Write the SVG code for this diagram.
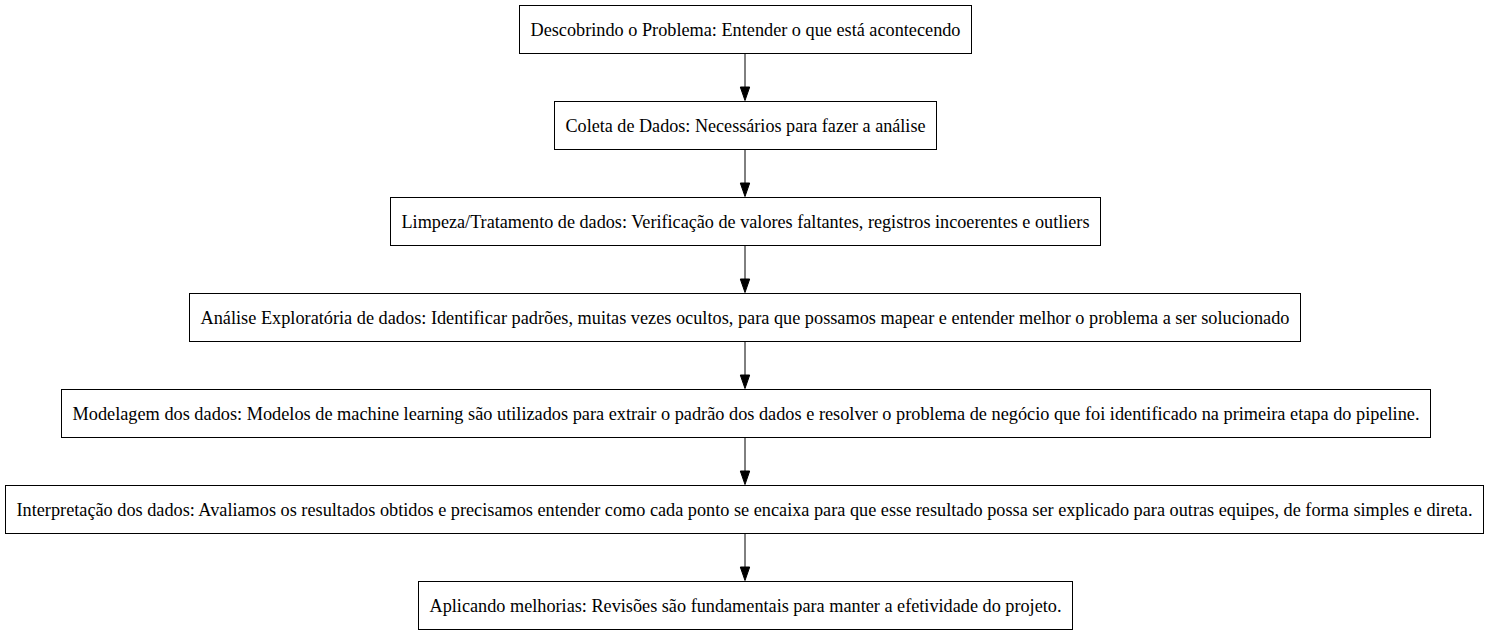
<svg xmlns="http://www.w3.org/2000/svg" width="1491" height="635" viewBox="0 0 1491 635">
<style>
.box{fill:#fff;stroke:#000;stroke-width:1}
.lbl{font-family:'Liberation Serif','Times New Roman','DejaVu Serif',serif;font-size:18.2px;fill:#000;text-anchor:middle}
.edge{stroke:#000;stroke-width:1;fill:none}
.head{fill:#000;stroke:#000;stroke-width:1}
</style>
<rect width="1491" height="635" fill="#fff"/>
<g id="connectors">
<path class="edge" d="M745,53 V87"/><polygon class="head" points="740.3,87 749.7,87 745,100.5"/>
<path class="edge" d="M745,149 V183"/><polygon class="head" points="740.3,183 749.7,183 745,196.5"/>
<path class="edge" d="M745,245 V279"/><polygon class="head" points="740.3,279 749.7,279 745,292.5"/>
<path class="edge" d="M745,341 V375"/><polygon class="head" points="740.3,375 749.7,375 745,388.5"/>
<path class="edge" d="M745,437 V471"/><polygon class="head" points="740.3,471 749.7,471 745,484.5"/>
<path class="edge" d="M745,533 V567"/><polygon class="head" points="740.3,567 749.7,567 745,580.5"/>
</g>
<g id="n1"><rect class="box" x="519.5" y="5.5" width="452" height="48"/><text class="lbl" x="745.5" y="35.5" textLength="430" lengthAdjust="spacingAndGlyphs">Descobrindo o Problema: Entender o que está acontecendo</text></g>
<g id="n2"><rect class="box" x="554.5" y="101.5" width="382" height="48"/><text class="lbl" x="745.5" y="131.5" textLength="360" lengthAdjust="spacingAndGlyphs">Coleta de Dados: Necessários para fazer a análise</text></g>
<g id="n3"><rect class="box" x="390.5" y="197.5" width="710" height="48"/><text class="lbl" x="745.5" y="227.5" textLength="688" lengthAdjust="spacingAndGlyphs">Limpeza/Tratamento de dados: Verificação de valores faltantes, registros incoerentes e outliers</text></g>
<g id="n4"><rect class="box" x="189.5" y="293.5" width="1111" height="48"/><text class="lbl" x="745" y="323.5" textLength="1089" lengthAdjust="spacingAndGlyphs">Análise Exploratória de dados: Identificar padrões, muitas vezes ocultos, para que possamos mapear e entender melhor o problema a ser solucionado</text></g>
<g id="n5"><rect class="box" x="61.5" y="389.5" width="1369" height="48"/><text class="lbl" x="746" y="419.5" textLength="1347" lengthAdjust="spacingAndGlyphs">Modelagem dos dados: Modelos de machine learning são utilizados para extrair o padrão dos dados e resolver o problema de negócio que foi identificado na primeira etapa do pipeline.</text></g>
<g id="n6"><rect class="box" x="5.5" y="485.5" width="1478" height="48"/><text class="lbl" x="744.5" y="515.5" textLength="1456" lengthAdjust="spacingAndGlyphs">Interpretação dos dados: Avaliamos os resultados obtidos e precisamos entender como cada ponto se encaixa para que esse resultado possa ser explicado para outras equipes, de forma simples e direta.</text></g>
<g id="n7"><rect class="box" x="418.5" y="581.5" width="654" height="48"/><text class="lbl" x="745.5" y="611.5" textLength="632" lengthAdjust="spacingAndGlyphs">Aplicando melhorias: Revisões são fundamentais para manter a efetividade do projeto.</text></g>
</svg>
